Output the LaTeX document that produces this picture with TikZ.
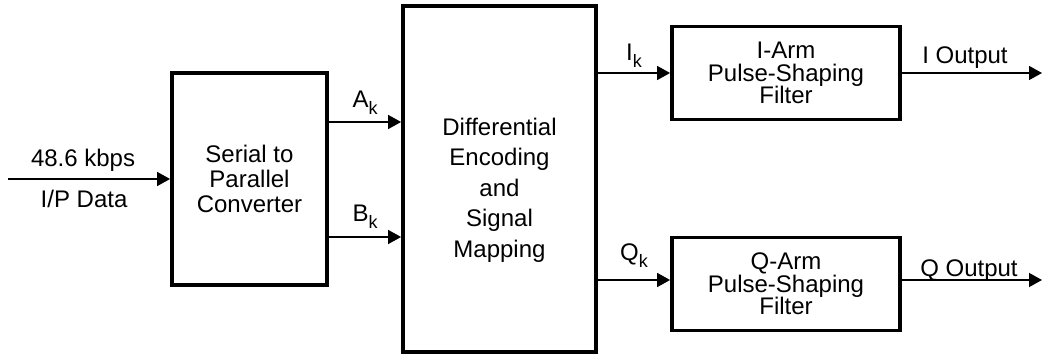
\documentclass[tikz,border=0pt]{standalone}
\usepackage{fontspec}
\setmainfont{Liberation Sans}
\usetikzlibrary{arrows.meta,positioning}
\newcommand{\lowsub}[1]{\raisebox{-0.28em}{\fontsize{18}{18}\selectfont #1}}
\tikzset{
  blockbox/.style={
    draw,
    rectangle,
    line width=3.8pt,
    align=center,
    inner sep=0pt,
  },
  filterbox/.style={
    blockbox,
    minimum width=228pt,
    minimum height=93pt,
    font=\fontsize{24}{22.5}\selectfont,
  },
  sig/.style={line width=1.4pt, -{Triangle[length=13pt,width=14pt]}},
  siglabel/.style={anchor=base, inner sep=0pt},
}

\begin{document}
\begin{tikzpicture}[x=1pt,y=-1pt,font=\fontsize{24}{25}\selectfont]
  \useasboundingbox (0,0) rectangle (1043,355);
  % blocks
  \node[blockbox, minimum width=155pt, minimum height=212pt] (s2p) at (249.5,179)
    {Serial to\\Parallel\\Converter};
  \node[blockbox, minimum width=193pt, minimum height=346pt,
    label={[align=center,yshift=-11pt,font=\fontsize{24}{30.5}\selectfont]center:Differential\\Encoding\\and\\Signal\\Mapping}]
    (dem) at (499.5,179) {};
  \node[filterbox] (ifilt) at (786,73) {I-Arm\\Pulse-Shaping\\Filter};
  \node[filterbox] (qfilt) at (786,284) {Q-Arm\\Pulse-Shaping\\Filter};
  % free ends
  \coordinate (din) at (8,179);
  \coordinate (iout) at (1042,73);
  \coordinate (qout) at (1042,280);
  \coordinate (qin) at ([yshift=4pt]qfilt.west);
  \coordinate (ak) at ([yshift=57pt]s2p.east);
  \coordinate (bk) at ([yshift=-58pt]s2p.east);
  % signals
  \draw[sig] (din) -- (s2p.west)
    node[siglabel, midway, xshift=-6pt, yshift=12pt] {48.6 kbps}
    node[siglabel, midway, xshift=-5pt, yshift=-29pt] {I/P Data};
  \draw[sig] (ak) -- (dem.west |- ak)
    node[siglabel, midway, yshift=14pt] {A\lowsub{k}};
  \draw[sig] (bk) -- (dem.west |- bk)
    node[siglabel, midway, yshift=15pt] {B\lowsub{k}};
  \draw[sig] (dem.east |- ifilt.west) -- (ifilt.west)
    node[siglabel, midway, yshift=12pt] {I\lowsub{k}};
  \draw[sig] (dem.east |- qin) -- (qin)
    node[siglabel, midway, yshift=19pt] {Q\lowsub{k}};
  \draw[sig] (ifilt.east) -- (iout)
    node[siglabel, midway, xshift=-7pt, yshift=9pt] {I Output};
  \draw[sig] (qfilt.east |- qout) -- (qout)
    node[siglabel, midway, xshift=-3pt, yshift=4pt] {Q Output};
\end{tikzpicture}
\end{document}
